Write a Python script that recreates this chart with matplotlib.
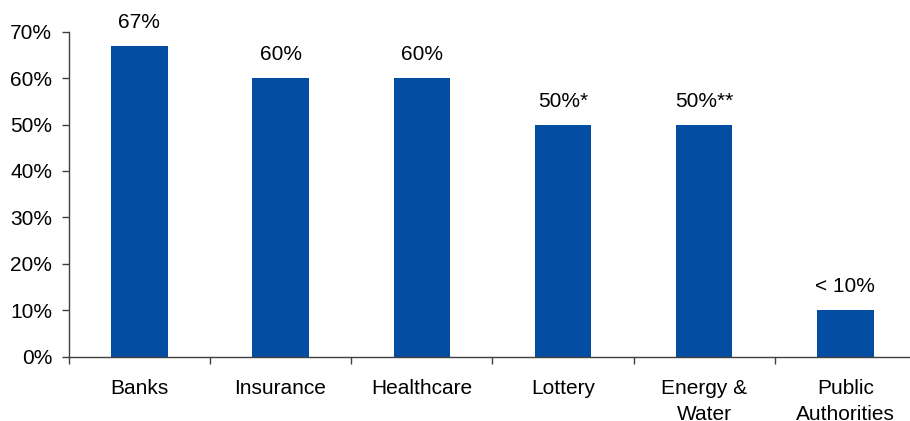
import matplotlib
matplotlib.use("Agg")
import matplotlib.pyplot as plt
from matplotlib.ticker import FixedLocator, PercentFormatter

plt.rcParams['font.family'] = ['Liberation Sans', 'DejaVu Sans']

# share of organisations per sector
sectors = ["Banks", "Insurance", "Healthcare", "Lottery", "Energy &\nWater", "Public\nAuthorities"]
shares = [67, 60, 60, 50, 50, 10]
share_labels = ["67%", "60%", "60%", "50%*", "50%**", "< 10%"]

BAR_COLOR = "#034EA2"
AXIS_COLOR = "#404040"
FONT_SIZE = 15

fig = plt.figure(figsize=(9.10, 4.21), dpi=100)
ax = fig.add_axes([0.0755, 0.1527, 0.9311, 0.772])

x = range(len(sectors))
bars = ax.bar(x, shares, width=0.4, color=BAR_COLOR, zorder=2)

for bar, text in zip(bars, share_labels):
    ax.annotate(text, (bar.get_x() + bar.get_width() / 2, bar.get_height()),
                xytext=(0, 10), textcoords="offset points",
                ha="center", va="bottom", fontsize=FONT_SIZE)

ax.set_xlim(-0.5, len(sectors) - 0.5)
ax.set_ylim(0, 70)
ax.yaxis.set_major_locator(FixedLocator(range(0, 71, 10)))
ax.yaxis.set_major_formatter(PercentFormatter(decimals=0))

# category labels without ticks, separator ticks between categories
ax.set_xticks(list(x))
ax.set_xticklabels(sectors, fontsize=FONT_SIZE, linespacing=1.45)
ax.tick_params(axis="x", which="major", length=0, pad=16)
ax.set_xticks([i - 0.5 for i in range(len(sectors) + 1)], minor=True)
ax.tick_params(axis="x", which="minor", direction="out", length=5, width=1, color=AXIS_COLOR)
ax.tick_params(axis="y", direction="out", length=5, width=1, color=AXIS_COLOR,
               labelsize=FONT_SIZE, pad=7)

for side in ("top", "right"):
    ax.spines[side].set_visible(False)
for side in ("left", "bottom"):
    ax.spines[side].set_color(AXIS_COLOR)
    ax.spines[side].set_linewidth(1)

fig.savefig("out.png", dpi=100)
